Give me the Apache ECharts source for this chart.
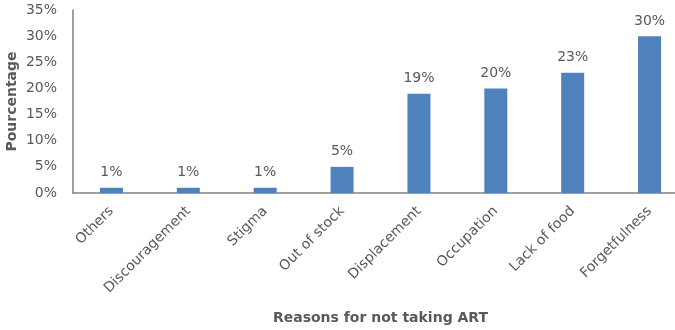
<!DOCTYPE html>
<html><head><meta charset="utf-8">
<script src="https://cdn.jsdelivr.net/npm/echarts@6/dist/echarts.min.js"></script>
<style>html,body{margin:0;padding:0;background:#fff}#c{width:675px;height:330px}</style>
</head><body><div id="c"></div>
<script>
const categories = ["Others","Discouragement","Stigma","Out of stock","Displacement","Occupation","Lack of food","Forgetfulness"];
const values = [1,1,1,5,19,20,23,30];
const yTicks = [0,5,10,15,20,25,30,35];
const font = "DejaVu Sans";
const chart = echarts.init(document.getElementById('c'));
chart.setOption({
  animation:false,
  textStyle:{fontFamily:font},
  grid:{left:73,right:-13,top:10,bottom:137,containLabel:false,outerBoundsMode:'none'},
  xAxis:{type:'category',data:categories,
    name:'Reasons for not taking ART',nameLocation:'middle',nameGap:118,nameMoveOverlap:false,
    nameTextStyle:{fontFamily:font,fontWeight:'bold',fontSize:14,color:'#595959'},
    axisLine:{lineStyle:{color:'#808080',width:1.5}},axisTick:{show:false},
    axisLabel:{rotate:45,fontSize:14,color:'#595959',margin:16,fontFamily:font,interval:0}},
  yAxis:{type:'value',min:0,max:35,interval:5,
    name:'Pourcentage',nameLocation:'middle',nameGap:54,nameRotate:90,nameMoveOverlap:false,
    nameTextStyle:{fontFamily:font,fontWeight:'bold',fontSize:14,color:'#595959'},
    axisLine:{show:true,lineStyle:{color:'#808080',width:1.5}},axisTick:{show:false},splitLine:{show:false},
    axisLabel:{fontSize:14,color:'#595959',margin:16,fontFamily:font,
      formatter:v=>yTicks.includes(v)?v+'%':''}},
  series:[{type:'bar',data:values,barWidth:23,
    itemStyle:{color:'#4F81BD'},
    label:{show:true,position:'top',distance:8,fontSize:14,color:'#595959',fontFamily:font,formatter:p=>p.value+'%'}}]
});
</script></body></html>
